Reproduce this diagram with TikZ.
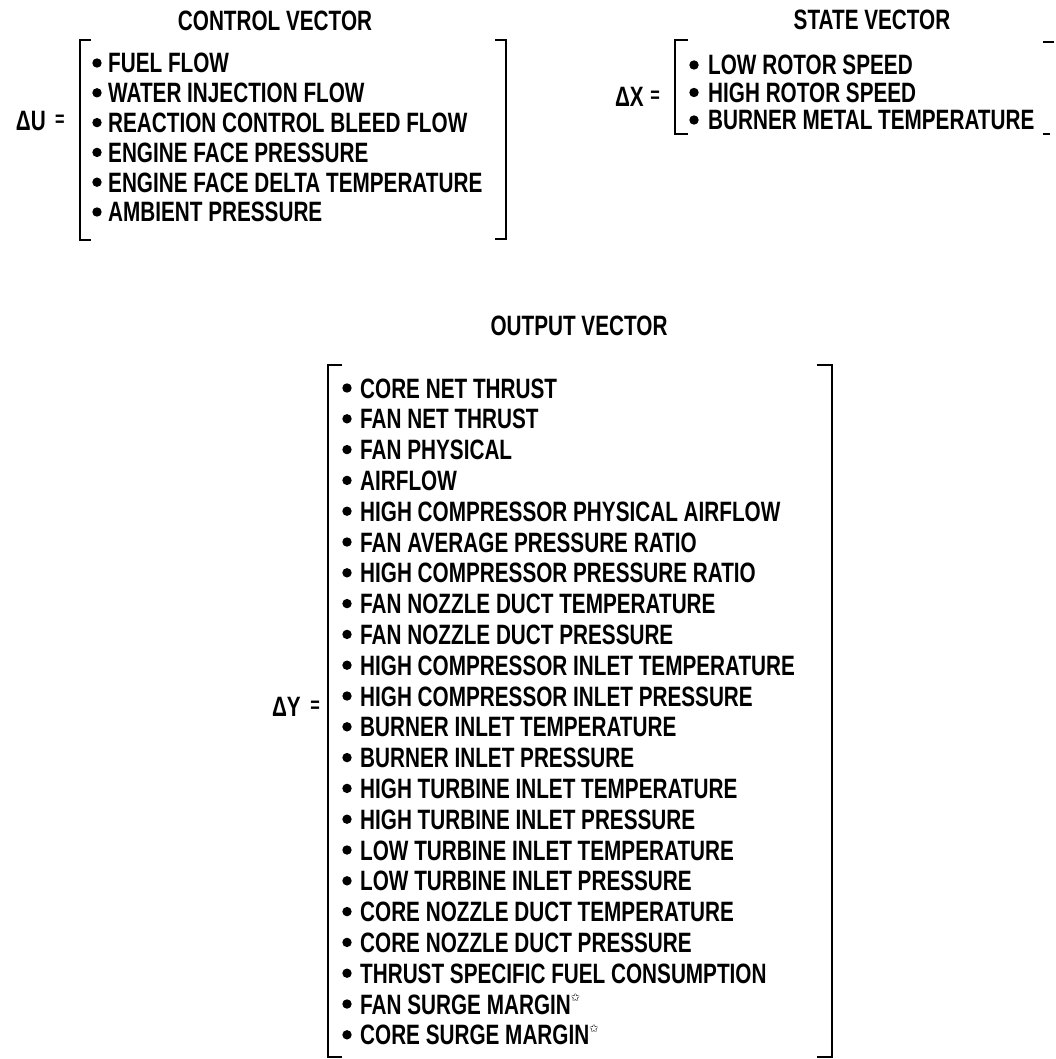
\documentclass[tikz,border=0pt]{standalone}
\usepackage{fontspec}
\setmainfont{Liberation Sans}[FakeStretch=0.74]
\newfontfamily\symfont{DejaVu Sans}
\newcommand{\starmark}{\raisebox{0.45em}{\symfont\fontsize{11}{11}\selectfont ✩}}
\begin{document}
\begin{tikzpicture}[x=1pt,y=-1pt]
\tikzset{
  txt/.style={anchor=base west, inner sep=0pt, font=\fontsize{28}{30}\selectfont\bfseries},
  ttl/.style={anchor=base, inner sep=0pt, font=\fontsize{28}{30}\selectfont\bfseries},
  lbl/.style={anchor=base east, inner sep=0pt, font=\fontsize{28}{30}\selectfont\bfseries},
  eqs/.style={anchor=center, inner sep=0pt, font=\fontsize{22}{22}\selectfont\bfseries},
  brk/.style={line width=2.6pt, line cap=butt, line join=miter},
  bul/.style={fill=black},
}
\useasboundingbox (0,0) rectangle (1056,1059);

% ---------- titles ----------
\node[ttl] (ctitle) at (275,31) {CONTROL VECTOR};
\node[ttl] (stitle) at (872,30) {STATE VECTOR};
\node[ttl] (otitle) at (579,335) {OUTPUT VECTOR};

% ---------- control vector ----------
\node[lbl] (du) at (46,131) {ΔU};
\node[eqs] (dueq) at (60,121) {=};
\draw[brk] (91,40) -- (80,40) -- (80,240) -- (91,240);
\draw[brk] (495,40) -- (506,40) -- (506,239) -- (495,239);
\foreach \t [count=\i] in {FUEL FLOW,WATER INJECTION FLOW,REACTION CONTROL BLEED FLOW,ENGINE FACE PRESSURE,ENGINE FACE DELTA TEMPERATURE,AMBIENT PRESSURE}{
  \pgfmathsetmacro{\yy}{63+29.8*(\i-1)}
  \fill[bul] (97,\yy) circle (4.7);
  \node[txt] (c\i) at (108,\yy+10) {\t};
}

% ---------- state vector ----------
\node[lbl] (dx) at (644,107) {ΔX};
\node[eqs] (dxeq) at (655,97) {=};
\draw[brk] (688,40) -- (675,40) -- (675,134) -- (688,134);
\draw[brk] (1043,42) -- (1054,42);
\draw[brk] (1043,134) -- (1050,134);
\foreach \t [count=\i] in {LOW ROTOR SPEED,HIGH ROTOR SPEED,BURNER METAL TEMPERATURE}{
  \pgfmathsetmacro{\yy}{65+27.5*(\i-1)}
  \fill[bul] (694,\yy) circle (4.7);
  \node[txt] (s\i) at (708,\yy+10) {\t};
}

% ---------- output vector ----------
\node[lbl] (dy) at (301,716) {ΔY};
\node[eqs] (dyeq) at (315,707) {=};
\draw[brk] (342,365) -- (328,365) -- (328,1057) -- (342,1057);
\draw[brk] (817,365) -- (832,365) -- (832,1057) -- (817,1057);
\foreach \t [count=\i] in {CORE NET THRUST,FAN NET THRUST,FAN PHYSICAL,AIRFLOW,HIGH COMPRESSOR PHYSICAL AIRFLOW,FAN AVERAGE PRESSURE RATIO,HIGH COMPRESSOR PRESSURE RATIO,FAN NOZZLE DUCT TEMPERATURE,FAN NOZZLE DUCT PRESSURE,HIGH COMPRESSOR INLET TEMPERATURE,HIGH COMPRESSOR INLET PRESSURE,BURNER INLET TEMPERATURE,BURNER INLET PRESSURE,HIGH TURBINE INLET TEMPERATURE,HIGH TURBINE INLET PRESSURE,LOW TURBINE INLET TEMPERATURE,LOW TURBINE INLET PRESSURE,CORE NOZZLE DUCT TEMPERATURE,CORE NOZZLE DUCT PRESSURE,THRUST SPECIFIC FUEL CONSUMPTION,FAN SURGE MARGIN\starmark,CORE SURGE MARGIN\starmark}{
  \pgfmathsetmacro{\yy}{388+30.8*(\i-1)}
  \fill[bul] (347,\yy) circle (4.7);
  \node[txt] (o\i) at (360,\yy+10) {\t};
}
\end{tikzpicture}
\end{document}
